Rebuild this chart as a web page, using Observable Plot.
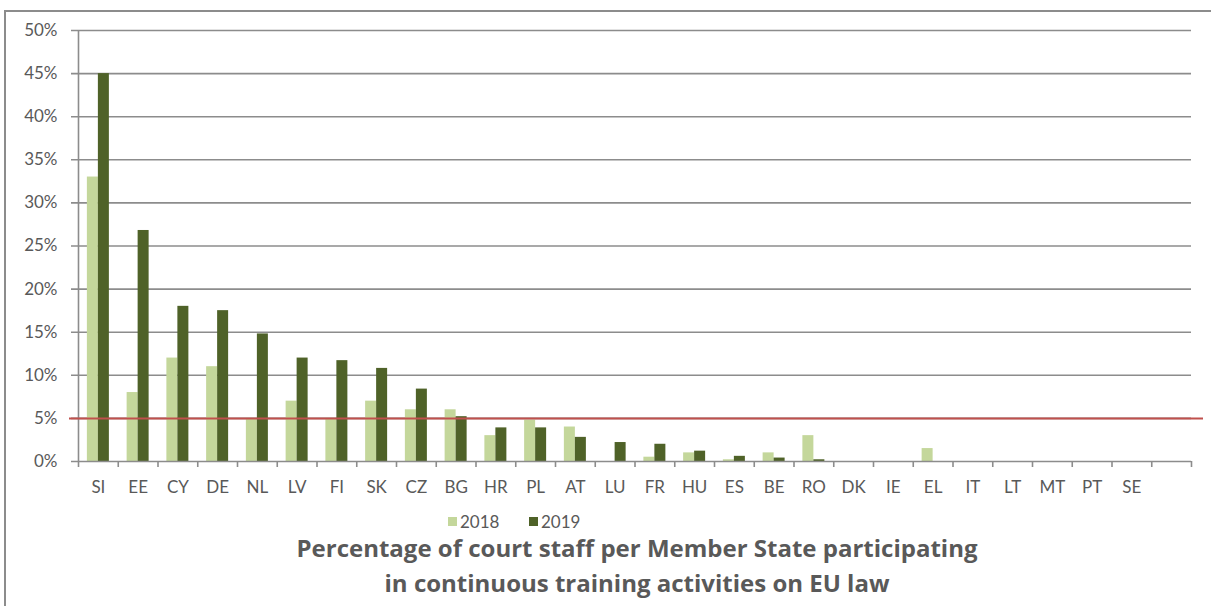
<!DOCTYPE html>
<html>
<head>
<meta charset="utf-8">
<script src="https://cdn.jsdelivr.net/npm/d3@7"></script>
<script src="https://cdn.jsdelivr.net/npm/@observablehq/plot@0.6"></script>
<style>
  html, body { margin: 0; padding: 0; background: #fff; }
  body { width: 1211px; height: 606px; position: relative; overflow: hidden; font-family: Lato, "Open Sans", sans-serif; color: #595959; }
  #border { position: absolute; left: 4px; top: 10px; width: 1220px; height: 620px; border-top: 2px solid #8c8c8c; border-left: 2px solid #8c8c8c; }
  #chart { position: absolute; left: 0; top: 0; }
  #legend { position: absolute; top: 510px; left: 0; width: 1211px; height: 22px; font-size: 17px; }
  .item { position: absolute; top: 0; display: flex; align-items: center; height: 22px; }
  .sw { width: 9px; height: 9px; margin-right: 3px; }
  #title { position: absolute; top: 530px; left: 0; width: 1274px; text-align: center; font-family: "Open Sans", Lato, sans-serif; font-weight: bold; font-size: 24px; line-height: 35px; }
</style>
</head>
<body>
<div id="border"></div>
<div id="chart"></div>
<div id="legend"></div>
<div id="title">Percentage of court staff per Member State participating<br>in continuous training activities on EU law</div>
<script>
const countries = ["SI","EE","CY","DE","NL","LV","FI","SK","CZ","BG","HR","PL","AT","LU","FR","HU","ES","BE","RO","DK","IE","EL","IT","LT","MT","PT","SE",""];
const values2018 = [33,8,12,11,5,7,5,7,6,6,3,4.8,4,0,0.5,1,0.2,1,3,0,0,1.5,0,0,0,0,0,null];
const values2019 = [45,26.8,18,17.5,14.8,12,11.7,10.8,8.4,5.2,3.9,3.9,2.8,2.2,2.0,1.2,0.6,0.4,0.2,0,0,0,0,0,0,0,0,null];
const yTicks = [0,5,10,15,20,25,30,35,40,45,50];
const series = ["2018","2019"];
const colors = ["#c4d79b","#4f6228"];
const target = [5];

const rows2018 = countries.map((c,i)=>({country:c, value: values2018[i]})).filter(d=>d.value);
const rows2019 = countries.map((c,i)=>({country:c, value: values2019[i]})).filter(d=>d.value);

const W = 1211, H = 506, mL = 78, mR = 20, mT = 30, mB = 45;
const bw = (W - mL - mR) / countries.length;
const barW = 11;
const grey = "#8c8c8c";

const plot = Plot.plot({
  width: W, height: H,
  marginLeft: mL, marginRight: mR, marginTop: mT, marginBottom: mB,
  style: {fontFamily: "Lato, 'Open Sans', sans-serif", fontSize: "17px", color: "#595959", background: "transparent"},
  x: {domain: countries, padding: 0, round: false, axis: null, label: null},
  y: {domain: [0, 50], axis: null, label: null},
  marks: [
    Plot.ruleY(yTicks.filter(d=>d>0), {stroke: grey, strokeWidth: 1.6, insetLeft: -7}),
    Plot.axisY({ticks: yTicks, tickSize: 0, tickPadding: 21, tickFormat: d => d + "%", fontSize: 17, fill: "#595959", label: null}),
    Plot.barY(rows2018, {x: "country", y: "value", fill: colors[0], insetLeft: bw/2 - barW, insetRight: bw/2}),
    Plot.barY(rows2019, {x: "country", y: "value", fill: colors[1], insetLeft: bw/2, insetRight: bw/2 - barW}),
    Plot.ruleX([countries[0]], {x: d=>d, dx: -bw/2, stroke: grey, strokeWidth: 1.6}),
    Plot.ruleY([0], {stroke: grey, strokeWidth: 1.6, insetLeft: -7}),
    Plot.axisX({ticks: countries, tickSize: 6, tickFormat: () => "", dx: -bw/2, stroke: grey, strokeWidth: 1.6, label: null}),
    Plot.axisX({ticks: [countries[countries.length-1]], tickSize: 6, tickFormat: () => "", dx: bw/2, stroke: grey, strokeWidth: 1.6, label: null}),
    Plot.axisX({ticks: countries, tickSize: 0, tickPadding: 19, fontSize: 17, fill: "#595959", label: null}),
    Plot.ruleY(target, {stroke: "#c0504d", strokeWidth: 2, insetLeft: -9, insetRight: -12})
  ]
});
document.getElementById("chart").appendChild(plot);

const legend = document.getElementById("legend");
const lefts = [448, 529];
series.forEach((s,i)=>{
  const it = document.createElement("div");
  it.className = "item";
  it.style.left = lefts[i] + "px";
  it.innerHTML = `<div class="sw" style="background:${colors[i]}"></div><span>${s}</span>`;
  legend.appendChild(it);
});
</script>
</body>
</html>
